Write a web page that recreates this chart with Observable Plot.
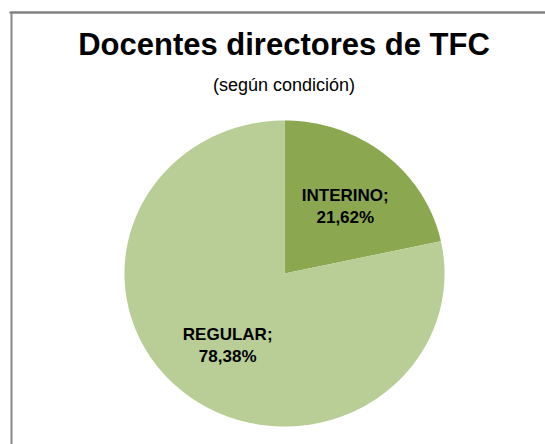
<!DOCTYPE html>
<html>
<head>
<meta charset="utf-8">
<script src="https://cdn.jsdelivr.net/npm/d3@7"></script>
<script src="https://cdn.jsdelivr.net/npm/@observablehq/plot@0.6"></script>
<style>
  html, body { margin: 0; padding: 0; background: #fff; }
  #wrap { position: relative; width: 545px; height: 444px; overflow: hidden; background: #fff;
          font-family: "Liberation Sans", Arial, sans-serif; }
  #title { position: absolute; left: 0; width: 568px; top: 29px; text-align: center;
           font-size: 31px; line-height: 31px; font-weight: bold; color: #000; white-space: nowrap; }
  #subtitle { position: absolute; left: 0; width: 568px; top: 76px; text-align: center;
              font-size: 18px; line-height: 18px; color: #000; white-space: nowrap; }
  #chart { position: absolute; left: 0; top: 0; }
</style>
</head>
<body>
<div id="wrap">
  <div id="chart"></div>
  <div id="title">Docentes directores de TFC</div>
  <div id="subtitle">(según condición)</div>
</div>
<script>
const categories = ["INTERINO", "REGULAR"];
const values = [21.62, 78.38];
const labels = ["INTERINO;\n21,62%", "REGULAR;\n78,38%"];
const colors = ["#8BA850", "#B9CE96"];

const data = categories.map((c, i) => ({category: c, value: values[i], label: labels[i]}));
const arcs = d3.pie().sort(null).value(d => d.value)(data);

// polygon outline of each slice in unit-circle coordinates
const slicePts = [];
arcs.forEach(a => {
  const n = Math.max(8, Math.ceil((a.endAngle - a.startAngle) / 0.01));
  slicePts.push({category: a.data.category, x: 0, y: 0});
  for (let k = 0; k <= n; k++) {
    const t = a.startAngle + (a.endAngle - a.startAngle) * k / n;
    slicePts.push({category: a.data.category, x: Math.sin(t), y: Math.cos(t)});
  }
  slicePts.push({category: a.data.category, x: 0, y: 0});
});
const labelPts = arcs.map(a => {
  const m = (a.startAngle + a.endAngle) / 2, f = 0.585;
  return {label: a.data.label, x: Math.sin(m) * f, y: Math.cos(m) * f};
});

const plot = Plot.plot({
  width: 545,
  height: 444,
  margin: 0,
  x: {domain: [-1, 1], range: [124, 444], axis: null},
  y: {domain: [-1, 1], range: [426, 120], axis: null},
  color: {domain: categories, range: colors},
  style: {background: "transparent", overflow: "hidden"},
  marks: [
    Plot.frame({stroke: "#878787", strokeWidth: 2, insetLeft: 11, insetTop: 12, insetRight: -20, insetBottom: -20}),
    Plot.frame({anchor: "top", stroke: "#808080", strokeWidth: 2, insetLeft: 10, insetTop: 12, insetRight: -20}),
    Plot.line(slicePts, {x: "x", y: "y", z: "category", fill: "category", stroke: null, curve: "linear"}),
    Plot.text(labelPts, {x: "x", y: "y", text: "label", fontSize: 17, fontWeight: "bold", lineHeight: 1.28,
      dx: 2, dy: 1, fill: "#000", fontFamily: "'Liberation Sans', Arial, sans-serif"})
  ]
});
document.getElementById("chart").appendChild(plot);
</script>
</body>
</html>
